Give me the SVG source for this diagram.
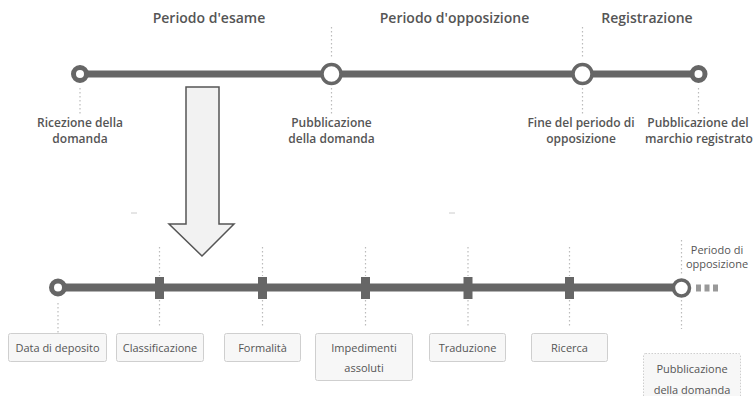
<svg xmlns="http://www.w3.org/2000/svg" width="754" height="396" viewBox="0 0 754 396">
<style>
.hdr{font-family:"Open Sans","Liberation Sans",sans-serif;font-weight:600;font-size:14px;fill:#555;text-anchor:middle}
.lbl{font-family:"Open Sans","Liberation Sans",sans-serif;font-weight:600;font-size:12px;fill:#555;text-anchor:middle}
.box{fill:#f7f7f7;stroke:#cfcfcf;stroke-width:1}
.bt{font-family:"Open Sans","Liberation Sans",sans-serif;font-size:11px;fill:#555;text-anchor:middle}
.dot{stroke:#bbb;stroke-width:1.2;stroke-dasharray:1.5 2.5;fill:none}
.track{stroke:#666;stroke-width:7;fill:none}
.tick{fill:#666}
.small{fill:#fff;stroke:#666;stroke-width:5}
.big{fill:#fff;stroke:#666;stroke-width:3.5}
</style>
<rect width="754" height="396" fill="#fff"/>
<g id="connectors">
  <line class="track" x1="80" y1="74" x2="699" y2="74"/>
  <line class="dot" x1="80" y1="88" x2="80" y2="114"/>
  <line class="dot" x1="331.5" y1="27" x2="331.5" y2="57"/>
  <line class="dot" x1="331.5" y1="88" x2="331.5" y2="114"/>
  <line class="dot" x1="582.5" y1="27" x2="582.5" y2="57"/>
  <line class="dot" x1="582.5" y1="88" x2="582.5" y2="114"/>
  <line class="dot" x1="698.5" y1="88" x2="698.5" y2="114"/>
  <line class="track" x1="58" y1="287.5" x2="681" y2="287.5" style="stroke-width:8"/>
  <line class="dot" x1="58" y1="303" x2="58" y2="333"/>
  <line class="dot" x1="159.5" y1="247" x2="159.5" y2="276"/>
  <line class="dot" x1="159.5" y1="300" x2="159.5" y2="327"/>
  <line class="dot" x1="262.5" y1="247" x2="262.5" y2="276"/>
  <line class="dot" x1="262.5" y1="300" x2="262.5" y2="327"/>
  <line class="dot" x1="365.5" y1="247" x2="365.5" y2="276"/>
  <line class="dot" x1="365.5" y1="300" x2="365.5" y2="327"/>
  <line class="dot" x1="468" y1="247" x2="468" y2="276"/>
  <line class="dot" x1="468" y1="300" x2="468" y2="327"/>
  <line class="dot" x1="569.5" y1="247" x2="569.5" y2="276"/>
  <line class="dot" x1="569.5" y1="300" x2="569.5" y2="327"/>
  <line class="dot" x1="681.5" y1="240" x2="681.5" y2="276"/>
  <line class="dot" x1="681.5" y1="300" x2="681.5" y2="329"/>
  <line x1="131" y1="213" x2="137" y2="213" stroke="#ccc" stroke-width="1"/>
  <line x1="449" y1="213" x2="455" y2="213" stroke="#ccc" stroke-width="1"/>
</g>
<g id="headers">
  <text class="hdr" x="209" y="23">Periodo d'esame</text>
  <text class="hdr" x="454.5" y="23">Periodo d'opposizione</text>
  <text class="hdr" x="647" y="23">Registrazione</text>
</g>
<g id="n-ricezione">
  <circle class="small" cx="80" cy="74" r="6.5"/>
  <text class="lbl" x="80" y="127">Ricezione della</text>
  <text class="lbl" x="80" y="143">domanda</text>
</g>
<g id="n-pubblicazione">
  <circle class="big" cx="331.5" cy="74" r="9.5"/>
  <text class="lbl" x="331.5" y="127">Pubblicazione</text>
  <text class="lbl" x="331.5" y="143">della domanda</text>
</g>
<g id="n-fine">
  <circle class="big" cx="582.5" cy="74" r="9.5"/>
  <text class="lbl" x="581" y="127">Fine del periodo di</text>
  <text class="lbl" x="581" y="143">opposizione</text>
</g>
<g id="n-registrato">
  <circle class="small" cx="698.5" cy="74" r="6.5"/>
  <text class="lbl" x="698" y="127">Pubblicazione del</text>
  <text class="lbl" x="699" y="143">marchio registrato</text>
</g>
<g id="arrow">
  <polygon points="186,87 219,87 219,224 234,224 202,256 169,224 186,224" fill="#f2f2f2" stroke="#555" stroke-width="1.5" stroke-linejoin="miter"/>
</g>
<g id="n-deposito">
  <circle class="small" cx="58" cy="287.5" r="6.5"/>
  <rect class="box" x="8.5" y="333.5" width="98" height="28" rx="2"/>
  <text class="bt" x="57.5" y="352">Data di deposito</text>
</g>
<g id="n-classificazione">
  <rect class="tick" x="155" y="277" width="9" height="22"/>
  <rect class="box" x="116.5" y="333.5" width="87" height="28" rx="2"/>
  <text class="bt" x="160" y="352">Classificazione</text>
</g>
<g id="n-formalita">
  <rect class="tick" x="258" y="277" width="9" height="22"/>
  <rect class="box" x="224.5" y="333.5" width="76" height="28" rx="2"/>
  <text class="bt" x="262.5" y="352">Formalità</text>
</g>
<g id="n-impedimenti">
  <rect class="tick" x="361" y="277" width="9" height="22"/>
  <rect class="box" x="315.5" y="333.5" width="97" height="47" rx="2"/>
  <text class="bt" x="364" y="352">Impedimenti</text>
  <text class="bt" x="364" y="372">assoluti</text>
</g>
<g id="n-traduzione">
  <rect class="tick" x="463.5" y="277" width="9" height="22"/>
  <rect class="box" x="429.5" y="333.5" width="76" height="28" rx="2"/>
  <text class="bt" x="467.5" y="352">Traduzione</text>
</g>
<g id="n-ricerca">
  <rect class="tick" x="565" y="277" width="9" height="22"/>
  <rect class="box" x="531.5" y="333.5" width="76" height="28" rx="2"/>
  <text class="bt" x="569.5" y="352">Ricerca</text>
</g>
<g id="n-opposizione">
  <circle class="big" cx="681.5" cy="288" r="8"/>
  <rect x="696" y="284.5" width="5" height="7" fill="#999"/>
  <rect x="704.5" y="284.5" width="5" height="7" fill="#999"/>
  <rect x="713" y="284.5" width="5" height="7" fill="#999"/>
  <text class="bt" x="717" y="253.5">Periodo di</text>
  <text class="bt" x="717" y="267.5">opposizione</text>
  <rect class="box" x="643.5" y="353.5" width="97" height="50" rx="2" style="stroke-dasharray:1.5 1.5"/>
  <text class="bt" x="692" y="373">Pubblicazione</text>
  <text class="bt" x="692" y="394">della domanda</text>
</g>
</svg>
